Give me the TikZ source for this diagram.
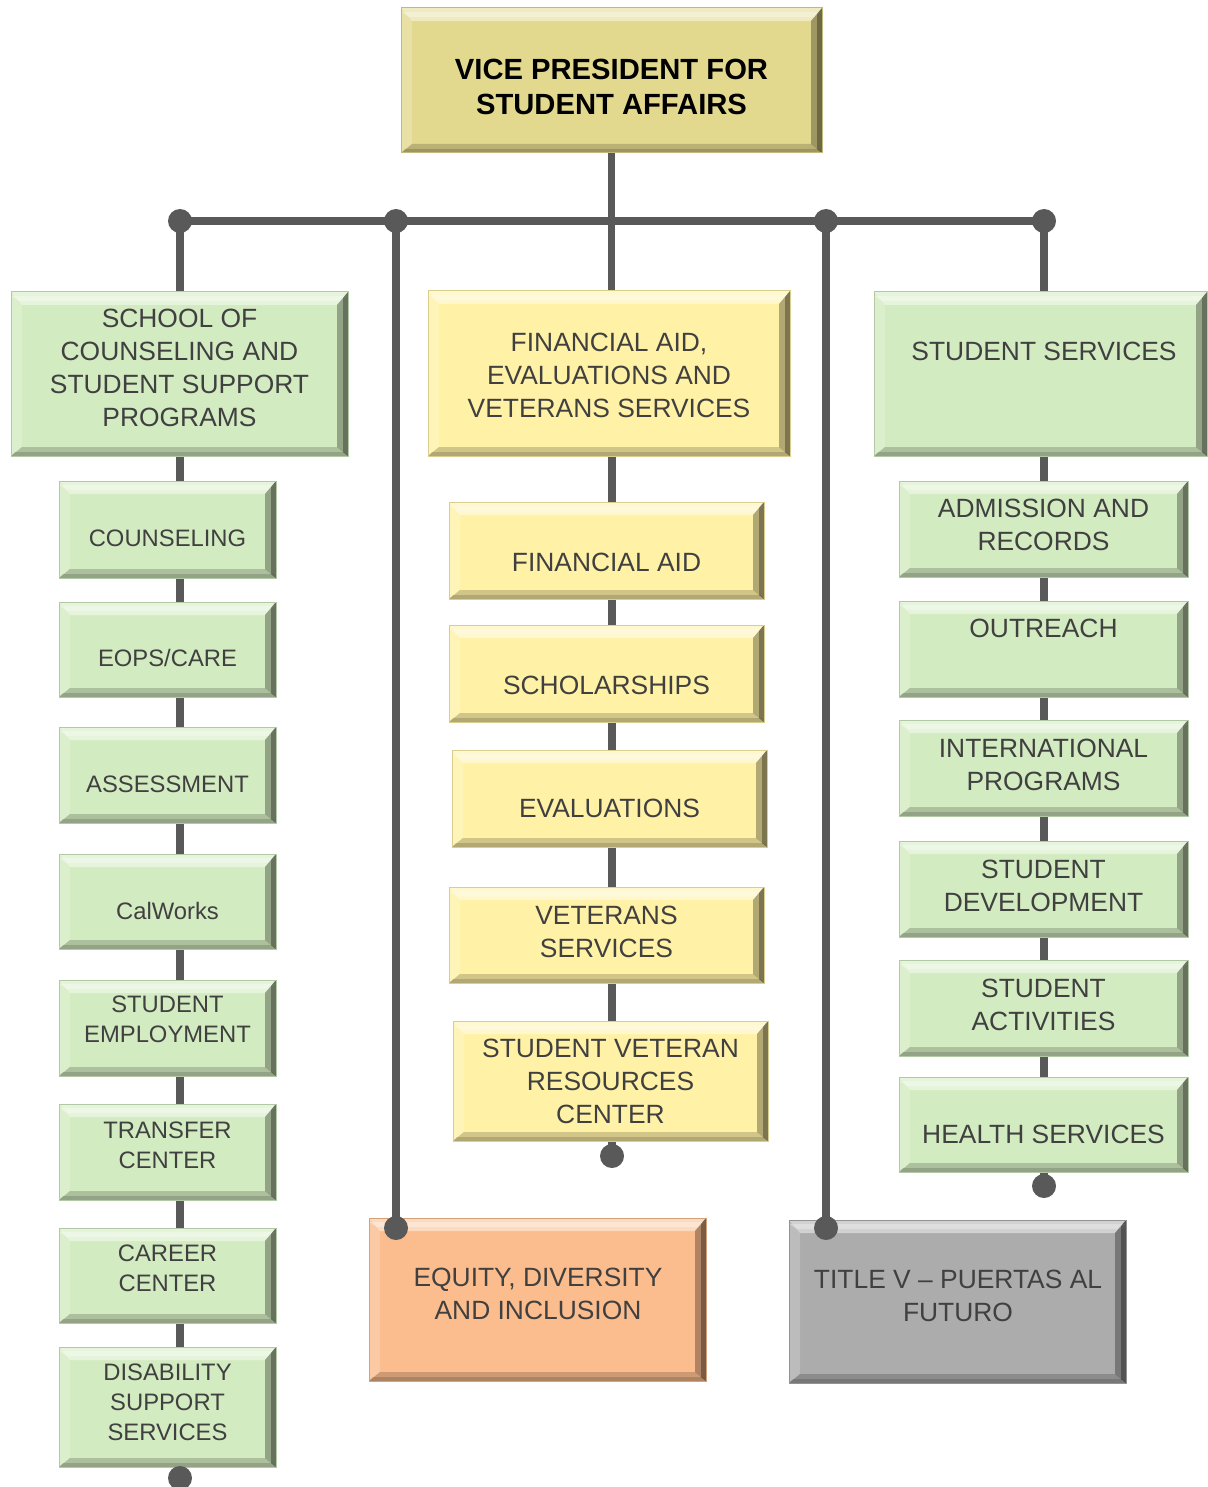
\documentclass[tikz,border=0pt]{standalone}
\usepackage{fontspec}
\setmainfont{Liberation Sans}
\usetikzlibrary{backgrounds}

\definecolor{vpyel}{HTML}{E3D98E}
\definecolor{fayel}{HTML}{FFF2A6}
\definecolor{ssgrn}{HTML}{D3EBC1}
\definecolor{edipch}{HTML}{FBBD8E}
\definecolor{tvgry}{HTML}{ACACAC}
\definecolor{linegry}{HTML}{595959}
\definecolor{txtgry}{HTML}{404040}

\tikzset{
  bevel/.style={path picture={
      \coordinate (bnw) at (path picture bounding box.north west);
      \coordinate (bne) at (path picture bounding box.north east);
      \coordinate (bsw) at (path picture bounding box.south west);
      \coordinate (bse) at (path picture bounding box.south east);
      % top and left: light
      \fill[white,opacity=.45] (bnw) -- (bne) -- ([shift={(-11pt,-13pt)}]bne) -- ([shift={(11pt,-13pt)}]bnw) -- cycle;
      \fill[white,opacity=.3] ([yshift=-4pt]bnw) -- ([yshift=-4pt]bne) -- ([shift={(-8pt,-9pt)}]bne) -- ([shift={(8pt,-9pt)}]bnw) -- cycle;
      \fill[white,opacity=.2] (bnw) -- (bsw) -- ([shift={(11pt,9pt)}]bsw) -- ([shift={(11pt,-13pt)}]bnw) -- cycle;
      % bottom and right: dark
      \fill[black,opacity=.18] (bsw) -- (bse) -- ([shift={(-11pt,9pt)}]bse) -- ([shift={(11pt,9pt)}]bsw) -- cycle;
      \fill[black,opacity=.15] (bsw) -- (bse) -- ([shift={(-4pt,4pt)}]bse) -- ([shift={(4pt,4pt)}]bsw) -- cycle;
      \fill[black,opacity=.3] (bne) -- (bse) -- ([shift={(-11pt,9pt)}]bse) -- ([shift={(-11pt,-13pt)}]bne) -- cycle;
      \fill[black,opacity=.3] (bne) -- (bse) -- ([shift={(-5pt,4pt)}]bse) -- ([shift={(-5pt,-6pt)}]bne) -- cycle;
    }},
  orgbox/.style={rectangle, fill=#1, draw=#1!85!black, line width=1pt, inner sep=0pt, bevel},
  lbl/.style={text=txtgry, align=center, font=\fontsize{26.4}{33}\selectfont},
  sublbl/.style={lbl, font=\fontsize{23.8}{30}\selectfont},
  toplbl/.style={text=black, align=center, font=\bfseries\fontsize{29.2}{35}\selectfont},
  conn/.style={linegry, line width=7.5pt},
  joint/.style={circle, fill=linegry, minimum size=24pt, inner sep=0pt},
}

\begin{document}
\begin{tikzpicture}[x=1pt,y=-1pt]
    \useasboundingbox (0,0) rectangle (1207,1487);

    % top
    \node[orgbox=vpyel, minimum width=421pt, minimum height=145pt] (vp) at (611.5,80.5) {};
    \node[toplbl] (vpT) at (611.5,86.5) {VICE PRESIDENT FOR\\STUDENT AFFAIRS};

    % heads of the three columns
    \node[orgbox=ssgrn, minimum width=337pt, minimum height=164pt] (sch) at (179.5,374) {};
    \node[lbl] (schT) at (179.5,367.5) {SCHOOL OF\\COUNSELING AND\\STUDENT SUPPORT\\PROGRAMS};
    \node[orgbox=fayel, minimum width=362pt, minimum height=165pt] (fa) at (609,373.5) {};
    \node[lbl] (faT) at (609,375) {FINANCIAL AID,\\EVALUATIONS AND\\VETERANS SERVICES};
    \node[orgbox=ssgrn, minimum width=333pt, minimum height=164pt] (ss) at (1040.5,374) {};
    \node[lbl] (ssT) at (1044,351) {STUDENT SERVICES};

    % left column
    \node[orgbox=ssgrn, minimum width=217pt, minimum height=97pt] (coun) at (167.5,529.5) {};
    \node[sublbl] (counT) at (167.5,538) {COUNSELING};
    \node[orgbox=ssgrn, minimum width=217pt, minimum height=95pt] (eops) at (167.5,649.5) {};
    \node[sublbl] (eopsT) at (167.5,658) {EOPS/CARE};
    \node[orgbox=ssgrn, minimum width=217pt, minimum height=96pt] (asmt) at (167.5,775) {};
    \node[sublbl] (asmtT) at (167.5,784) {ASSESSMENT};
    \node[orgbox=ssgrn, minimum width=217pt, minimum height=95pt] (calw) at (167.5,901.5) {};
    \node[sublbl] (calwT) at (167.5,911) {CalWorks};
    \node[orgbox=ssgrn, minimum width=217pt, minimum height=96pt] (semp) at (167.5,1028) {};
    \node[sublbl] (sempT) at (167.5,1019.5) {STUDENT\\EMPLOYMENT};
    \node[orgbox=ssgrn, minimum width=217pt, minimum height=96pt] (trans) at (167.5,1152) {};
    \node[sublbl] (transT) at (167.5,1145) {TRANSFER\\CENTER};
    \node[orgbox=ssgrn, minimum width=217pt, minimum height=95pt] (car) at (167.5,1275.5) {};
    \node[sublbl] (carT) at (167.5,1268) {CAREER\\CENTER};
    \node[orgbox=ssgrn, minimum width=217pt, minimum height=120pt] (dss) at (167.5,1407) {};
    \node[sublbl] (dssT) at (167.5,1402) {DISABILITY\\SUPPORT\\SERVICES};

    % middle column
    \node[orgbox=fayel, minimum width=315pt, minimum height=97pt] (fad) at (606.5,550.5) {};
    \node[lbl] (fadT) at (606.5,562) {FINANCIAL AID};
    \node[orgbox=fayel, minimum width=315pt, minimum height=97pt] (schol) at (606.5,673.5) {};
    \node[lbl] (scholT) at (606.5,685) {SCHOLARSHIPS};
    \node[orgbox=fayel, minimum width=315pt, minimum height=97pt] (eval) at (609.5,798.5) {};
    \node[lbl] (evalT) at (609.5,808) {EVALUATIONS};
    \node[orgbox=fayel, minimum width=315pt, minimum height=96pt] (vet) at (606.5,935) {};
    \node[lbl] (vetT) at (606.5,931.5) {VETERANS\\SERVICES};
    \node[orgbox=fayel, minimum width=315pt, minimum height=120pt] (svrc) at (610.5,1081) {};
    \node[lbl] (svrcT) at (610.5,1081) {STUDENT VETERAN\\RESOURCES\\CENTER};

    % right column
    \node[orgbox=ssgrn, minimum width=289pt, minimum height=96pt] (adm) at (1043.5,529) {};
    \node[lbl] (admT) at (1043.5,524.5) {ADMISSION AND\\RECORDS};
    \node[orgbox=ssgrn, minimum width=289pt, minimum height=96pt] (outr) at (1043.5,649) {};
    \node[lbl] (outrT) at (1043.5,628) {OUTREACH};
    \node[orgbox=ssgrn, minimum width=289pt, minimum height=96pt] (intl) at (1043.5,768) {};
    \node[lbl] (intlT) at (1043.5,764.5) {INTERNATIONAL\\PROGRAMS};
    \node[orgbox=ssgrn, minimum width=289pt, minimum height=96pt] (sdev) at (1043.5,889) {};
    \node[lbl] (sdevT) at (1043.5,885.5) {STUDENT\\DEVELOPMENT};
    \node[orgbox=ssgrn, minimum width=289pt, minimum height=96pt] (sact) at (1043.5,1008) {};
    \node[lbl] (sactT) at (1043.5,1004.5) {STUDENT\\ACTIVITIES};
    \node[orgbox=ssgrn, minimum width=289pt, minimum height=95pt] (hlth) at (1043.5,1124.5) {};
    \node[lbl] (hlthT) at (1043.5,1134) {HEALTH SERVICES};

    % bottom
    \node[orgbox=edipch, minimum width=337pt, minimum height=163pt] (edi) at (537.5,1299.5) {};
    \node[lbl] (ediT) at (538,1293.5) {EQUITY, DIVERSITY\\AND INCLUSION};
    \node[orgbox=tvgry, minimum width=337pt, minimum height=163pt] (tv) at (957.5,1301.5) {};
    \node[lbl] (tvT) at (958,1295.5) {TITLE V – PUERTAS AL\\FUTURO};

    % joints
    \node[joint] (jA) at (180,221) {};
    \node[joint] (jB) at (396,221) {};
    \node[joint] (jC) at (826,221) {};
    \node[joint] (jD) at (1044,221) {};
    \node[joint] (jE) at (396,1228) {};
    \node[joint] (jT) at (826,1228) {};
    \node[joint] (jL) at (180,1478) {};
    \node[joint] (jM) at (612,1156) {};
    \node[joint] (jR) at (1044,1186) {};

    \begin{scope}[on background layer]
        \draw[conn] (vp.south) -- (vp.south |- fa.north);
        \draw[conn] (jA.center) -- (jD.center);
        \draw[conn] (jA.center) -- (jA |- sch.north);
        \draw[conn] (jD.center) -- (jD |- ss.north);
        \draw[conn] (jB.center) -- (jE.center);
        \draw[conn] (jC.center) -- (jT.center);
        \draw[conn] (sch.south -| jL) -- (jL.center);
        \draw[conn] (fa.south -| jM) -- (jM.center);
        \draw[conn] (ss.south -| jR) -- (jR.center);
    \end{scope}
\end{tikzpicture}
\end{document}
